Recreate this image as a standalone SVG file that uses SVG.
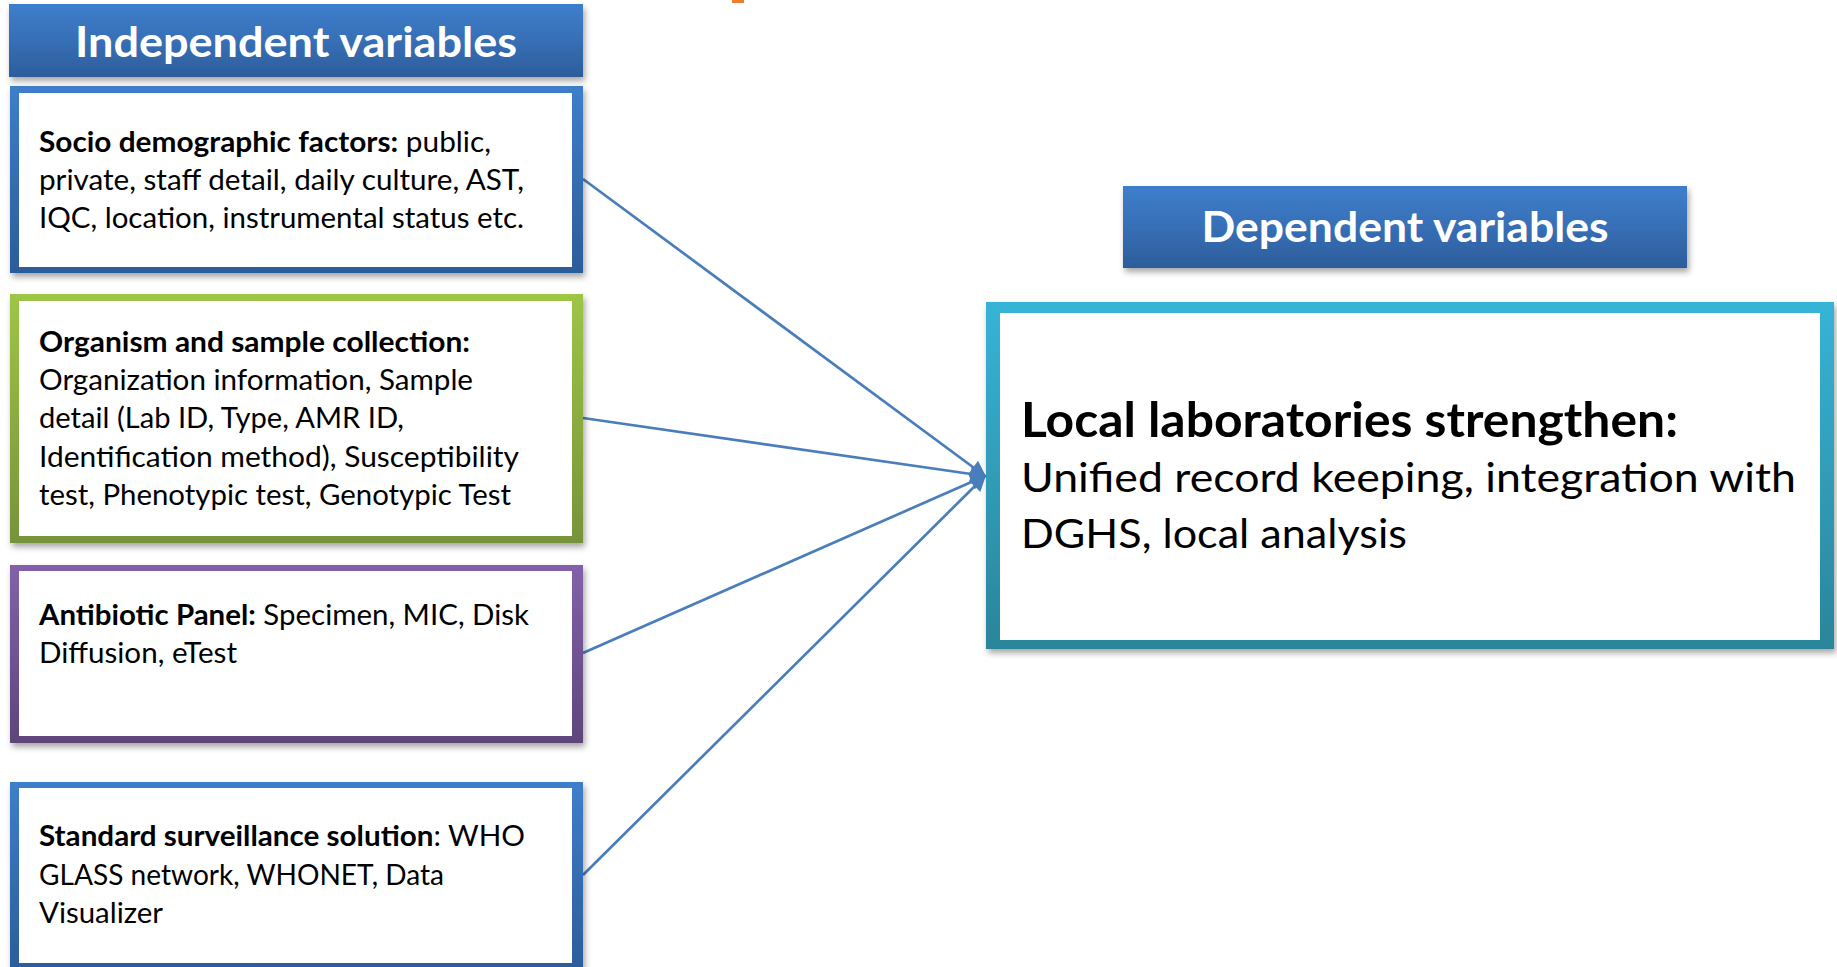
<svg xmlns="http://www.w3.org/2000/svg" width="1837" height="967" viewBox="0 0 1837 967">
<style>
.t{font-family:Lato,"Liberation Sans",sans-serif;fill:#000;font-size:29px}
.b{font-weight:bold}
.h{font-family:Lato,"Liberation Sans",sans-serif;fill:#fff;font-weight:bold;font-size:42px}
.inner{fill:#fff}
.conn{stroke:#4a7ebb;stroke-width:2.7;fill:none;marker-end:url(#arr)}
</style>
<defs>
<linearGradient id="gBlue" x1="0" y1="0" x2="0" y2="1"><stop offset="0" stop-color="#3d7ecb"/><stop offset="1" stop-color="#2c5c99"/></linearGradient>
<linearGradient id="gHead" x1="0" y1="0" x2="0" y2="1"><stop offset="0" stop-color="#3e7ecc"/><stop offset="0.5" stop-color="#376fb6"/><stop offset="1" stop-color="#2c5d9a"/></linearGradient>
<linearGradient id="gGreen" x1="0" y1="0" x2="0" y2="1"><stop offset="0" stop-color="#9dc645"/><stop offset="1" stop-color="#76933a"/></linearGradient>
<linearGradient id="gPurple" x1="0" y1="0" x2="0" y2="1"><stop offset="0" stop-color="#8261aa"/><stop offset="1" stop-color="#5d4679"/></linearGradient>
<linearGradient id="gTeal" x1="0" y1="0" x2="0" y2="1"><stop offset="0" stop-color="#36b4d7"/><stop offset="1" stop-color="#2a8599"/></linearGradient>
<filter id="sh" x="-5%" y="-10%" width="110%" height="125%"><feDropShadow dx="2" dy="4" stdDeviation="3" flood-color="#000" flood-opacity="0.35"/></filter>
<marker id="arr" viewBox="0 0 10 10" refX="9" refY="5" markerWidth="6.5" markerHeight="6" orient="auto" markerUnits="strokeWidth"><path d="M0,0 L10,5 L0,10 z" fill="#4a7ebb"/></marker>
</defs>
<rect width="1837" height="967" fill="#fff"/>
<rect x="732" y="0" width="12" height="3" fill="#ed7d31"/>

<g id="connectors">
<line class="conn" x1="583" y1="179" x2="985" y2="476"/>
<line class="conn" x1="583" y1="418" x2="985" y2="476"/>
<line class="conn" x1="583" y1="653" x2="985" y2="476"/>
<line class="conn" x1="583" y1="875" x2="985" y2="476"/>
</g>

<g id="header-independent">
<rect x="9" y="4" width="574" height="73" fill="url(#gHead)" filter="url(#sh)"/>
<text class="h" x="296" y="57" text-anchor="middle" textLength="442" lengthAdjust="spacingAndGlyphs">Independent variables</text>
</g>

<g id="box-socio">
<rect x="10" y="86" width="573" height="187" fill="url(#gBlue)" filter="url(#sh)"/>
<rect class="inner" x="19" y="93" width="553" height="174"/>
<text class="t" x="39" y="152" textLength="452" lengthAdjust="spacingAndGlyphs"><tspan class="b">Socio demographic factors:</tspan> public,</text>
<text class="t" x="39" y="190" textLength="485" lengthAdjust="spacingAndGlyphs">private, staff detail, daily culture, AST,</text>
<text class="t" x="39" y="228" textLength="485" lengthAdjust="spacingAndGlyphs">IQC, location, instrumental status etc.</text>
</g>

<g id="box-organism">
<rect x="10" y="294" width="573" height="249" fill="url(#gGreen)" filter="url(#sh)"/>
<rect class="inner" x="19" y="301" width="553" height="235"/>
<text class="t b" x="39" y="352" textLength="431" lengthAdjust="spacingAndGlyphs">Organism and sample collection:</text>
<text class="t" x="39" y="390" textLength="434" lengthAdjust="spacingAndGlyphs">Organization information, Sample</text>
<text class="t" x="39" y="428" textLength="365" lengthAdjust="spacingAndGlyphs">detail (Lab ID, Type, AMR ID,</text>
<text class="t" x="39" y="467" textLength="480" lengthAdjust="spacingAndGlyphs">Identification method), Susceptibility</text>
<text class="t" x="39" y="505" textLength="472" lengthAdjust="spacingAndGlyphs">test, Phenotypic test, Genotypic Test</text>
</g>

<g id="box-antibiotic">
<rect x="10" y="565" width="573" height="178" fill="url(#gPurple)" filter="url(#sh)"/>
<rect class="inner" x="19" y="571" width="553" height="165"/>
<text class="t" x="39" y="625" textLength="490" lengthAdjust="spacingAndGlyphs"><tspan class="b">Antibiotic Panel:</tspan> Specimen, MIC, Disk</text>
<text class="t" x="39" y="663" textLength="198" lengthAdjust="spacingAndGlyphs">Diffusion, eTest</text>
</g>

<g id="box-standard">
<rect x="10" y="782" width="573" height="190" fill="url(#gBlue)" filter="url(#sh)"/>
<rect class="inner" x="19" y="788" width="553" height="175"/>
<text class="t" x="39" y="846" textLength="486" lengthAdjust="spacingAndGlyphs"><tspan class="b">Standard surveillance solution</tspan>: WHO</text>
<text class="t" x="39" y="885" textLength="405" lengthAdjust="spacingAndGlyphs">GLASS network, WHONET, Data</text>
<text class="t" x="39" y="923" textLength="124" lengthAdjust="spacingAndGlyphs">Visualizer</text>
</g>

<g id="header-dependent">
<rect x="1123" y="186" width="564" height="82" fill="url(#gHead)" filter="url(#sh)"/>
<text class="h" x="1405" y="242" text-anchor="middle" textLength="407" lengthAdjust="spacingAndGlyphs">Dependent variables</text>
</g>

<g id="box-dependent">
<rect x="986" y="302" width="848" height="347" fill="url(#gTeal)" filter="url(#sh)"/>
<rect class="inner" x="1000" y="313" width="820" height="327"/>
<text class="t b" x="1021" y="437" style="font-size:47px" textLength="657" lengthAdjust="spacingAndGlyphs">Local laboratories strengthen:</text>
<text class="t" x="1021" y="492" style="font-size:40px" textLength="775" lengthAdjust="spacingAndGlyphs">Unified record keeping, integration with</text>
<text class="t" x="1021" y="548" style="font-size:40px" textLength="386" lengthAdjust="spacingAndGlyphs">DGHS, local analysis</text>
</g>
</svg>
